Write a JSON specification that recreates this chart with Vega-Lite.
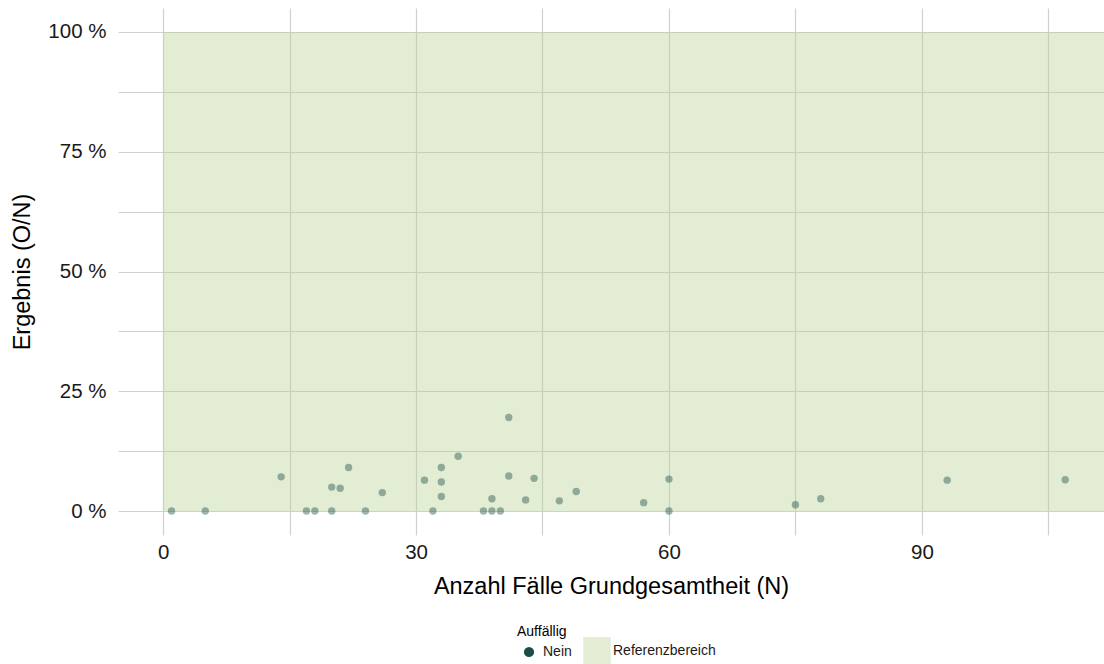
{
  "$schema": "https://vega.github.io/schema/vega-lite/v6.json",
  "width": 986,
  "height": 527,
  "autosize": {"type": "none"},
  "padding": {"left": 118, "top": 8, "right": 0, "bottom": 129},
  "background": "white",
  "config": {
    "view": {"stroke": null},
    "font": "Liberation Sans",
    "axis": {
      "grid": true,
      "gridColor": "#d0d0d0",
      "gridWidth": 1.2,
      "ticks": false,
      "domain": false,
      "labelFontSize": 20.5,
      "labelColor": "#1a1a1a",
      "titleFontSize": 23.5,
      "titleFontWeight": "normal",
      "titleColor": "#000000"
    },
    "legend": {
      "titleFontWeight": "normal",
      "titleFontSize": 14,
      "labelFontSize": 14,
      "titleColor": "#000000",
      "labelColor": "#1a1a1a"
    }
  },
  "datasets": {
    "punkte": [
      {"N": 1, "Ergebnis": 0, "Auffaellig": "Nein"},
      {"N": 5, "Ergebnis": 0, "Auffaellig": "Nein"},
      {"N": 14, "Ergebnis": 7.14, "Auffaellig": "Nein"},
      {"N": 17, "Ergebnis": 0, "Auffaellig": "Nein"},
      {"N": 18, "Ergebnis": 0, "Auffaellig": "Nein"},
      {"N": 20, "Ergebnis": 5.0, "Auffaellig": "Nein"},
      {"N": 20, "Ergebnis": 0, "Auffaellig": "Nein"},
      {"N": 21, "Ergebnis": 4.76, "Auffaellig": "Nein"},
      {"N": 22, "Ergebnis": 9.09, "Auffaellig": "Nein"},
      {"N": 24, "Ergebnis": 0, "Auffaellig": "Nein"},
      {"N": 26, "Ergebnis": 3.85, "Auffaellig": "Nein"},
      {"N": 31, "Ergebnis": 6.45, "Auffaellig": "Nein"},
      {"N": 32, "Ergebnis": 0, "Auffaellig": "Nein"},
      {"N": 33, "Ergebnis": 9.09, "Auffaellig": "Nein"},
      {"N": 33, "Ergebnis": 6.06, "Auffaellig": "Nein"},
      {"N": 33, "Ergebnis": 3.03, "Auffaellig": "Nein"},
      {"N": 35, "Ergebnis": 11.43, "Auffaellig": "Nein"},
      {"N": 38, "Ergebnis": 0, "Auffaellig": "Nein"},
      {"N": 39, "Ergebnis": 0, "Auffaellig": "Nein"},
      {"N": 39, "Ergebnis": 2.56, "Auffaellig": "Nein"},
      {"N": 40, "Ergebnis": 0, "Auffaellig": "Nein"},
      {"N": 41, "Ergebnis": 19.51, "Auffaellig": "Nein"},
      {"N": 41, "Ergebnis": 7.32, "Auffaellig": "Nein"},
      {"N": 43, "Ergebnis": 2.33, "Auffaellig": "Nein"},
      {"N": 44, "Ergebnis": 6.82, "Auffaellig": "Nein"},
      {"N": 47, "Ergebnis": 2.13, "Auffaellig": "Nein"},
      {"N": 49, "Ergebnis": 4.08, "Auffaellig": "Nein"},
      {"N": 57, "Ergebnis": 1.75, "Auffaellig": "Nein"},
      {"N": 60, "Ergebnis": 6.67, "Auffaellig": "Nein"},
      {"N": 60, "Ergebnis": 0, "Auffaellig": "Nein"},
      {"N": 75, "Ergebnis": 1.33, "Auffaellig": "Nein"},
      {"N": 78, "Ergebnis": 2.56, "Auffaellig": "Nein"},
      {"N": 93, "Ergebnis": 6.45, "Auffaellig": "Nein"},
      {"N": 107, "Ergebnis": 6.54, "Auffaellig": "Nein"}
    ],
    "ref": [
      {"von": 0, "bis": 130, "unten": 0, "oben": 100, "Bereich": "Referenzbereich"}
    ]
  },
  "layer": [
    {
      "data": {"name": "ref"},
      "mark": {"type": "rect", "clip": true, "opacity": 0.4},
      "encoding": {
        "x": {
          "field": "von",
          "type": "quantitative",
          "scale": {"domain": [-5.35, 111.6], "nice": false, "zero": false},
          "axis": {
            "values": [0, 15, 30, 45, 60, 75, 90, 105],
            "labelExpr": "datum.value % 30 == 0 ? datum.label : ''",
            "labelPadding": 7,
            "titlePadding": 12,
            "title": "Anzahl Fälle Grundgesamtheit (N)"
          }
        },
        "x2": {"field": "bis"},
        "y": {
          "field": "unten",
          "type": "quantitative",
          "scale": {"domain": [-5, 105], "nice": false, "zero": false},
          "axis": {
            "values": [0, 12.5, 25, 37.5, 50, 62.5, 75, 87.5, 100],
            "labelExpr": "datum.value % 25 == 0 ? datum.value + ' %' : ''",
            "labelPadding": 12,
            "titlePadding": 13,
            "title": "Ergebnis (O/N)"
          }
        },
        "y2": {"field": "oben"},
        "fill": {
          "field": "Bereich",
          "type": "nominal",
          "scale": {"range": ["#b9d294"]},
          "legend": {
            "title": null,
            "orient": "none",
            "legendX": 465,
            "legendY": 629,
            "symbolType": "square",
            "symbolSize": 760,
            "symbolOpacity": 0.4,
            "symbolStrokeWidth": 0,
            "labelOffset": 2
          }
        }
      }
    },
    {
      "data": {"name": "punkte"},
      "mark": {"type": "circle", "size": 55, "opacity": 0.42},
      "encoding": {
        "x": {"field": "N", "type": "quantitative"},
        "y": {"field": "Ergebnis", "type": "quantitative"},
        "color": {
          "field": "Auffaellig",
          "type": "nominal",
          "scale": {"range": ["#1b4d48"]},
          "legend": {
            "title": "Auffällig",
            "orient": "none",
            "legendX": 399,
            "legendY": 617,
            "symbolType": "circle",
            "symbolSize": 105,
            "symbolOffset": 5,
            "symbolOpacity": 1,
            "labelOffset": 7,
            "titlePadding": 6
          }
        }
      }
    }
  ]
}
